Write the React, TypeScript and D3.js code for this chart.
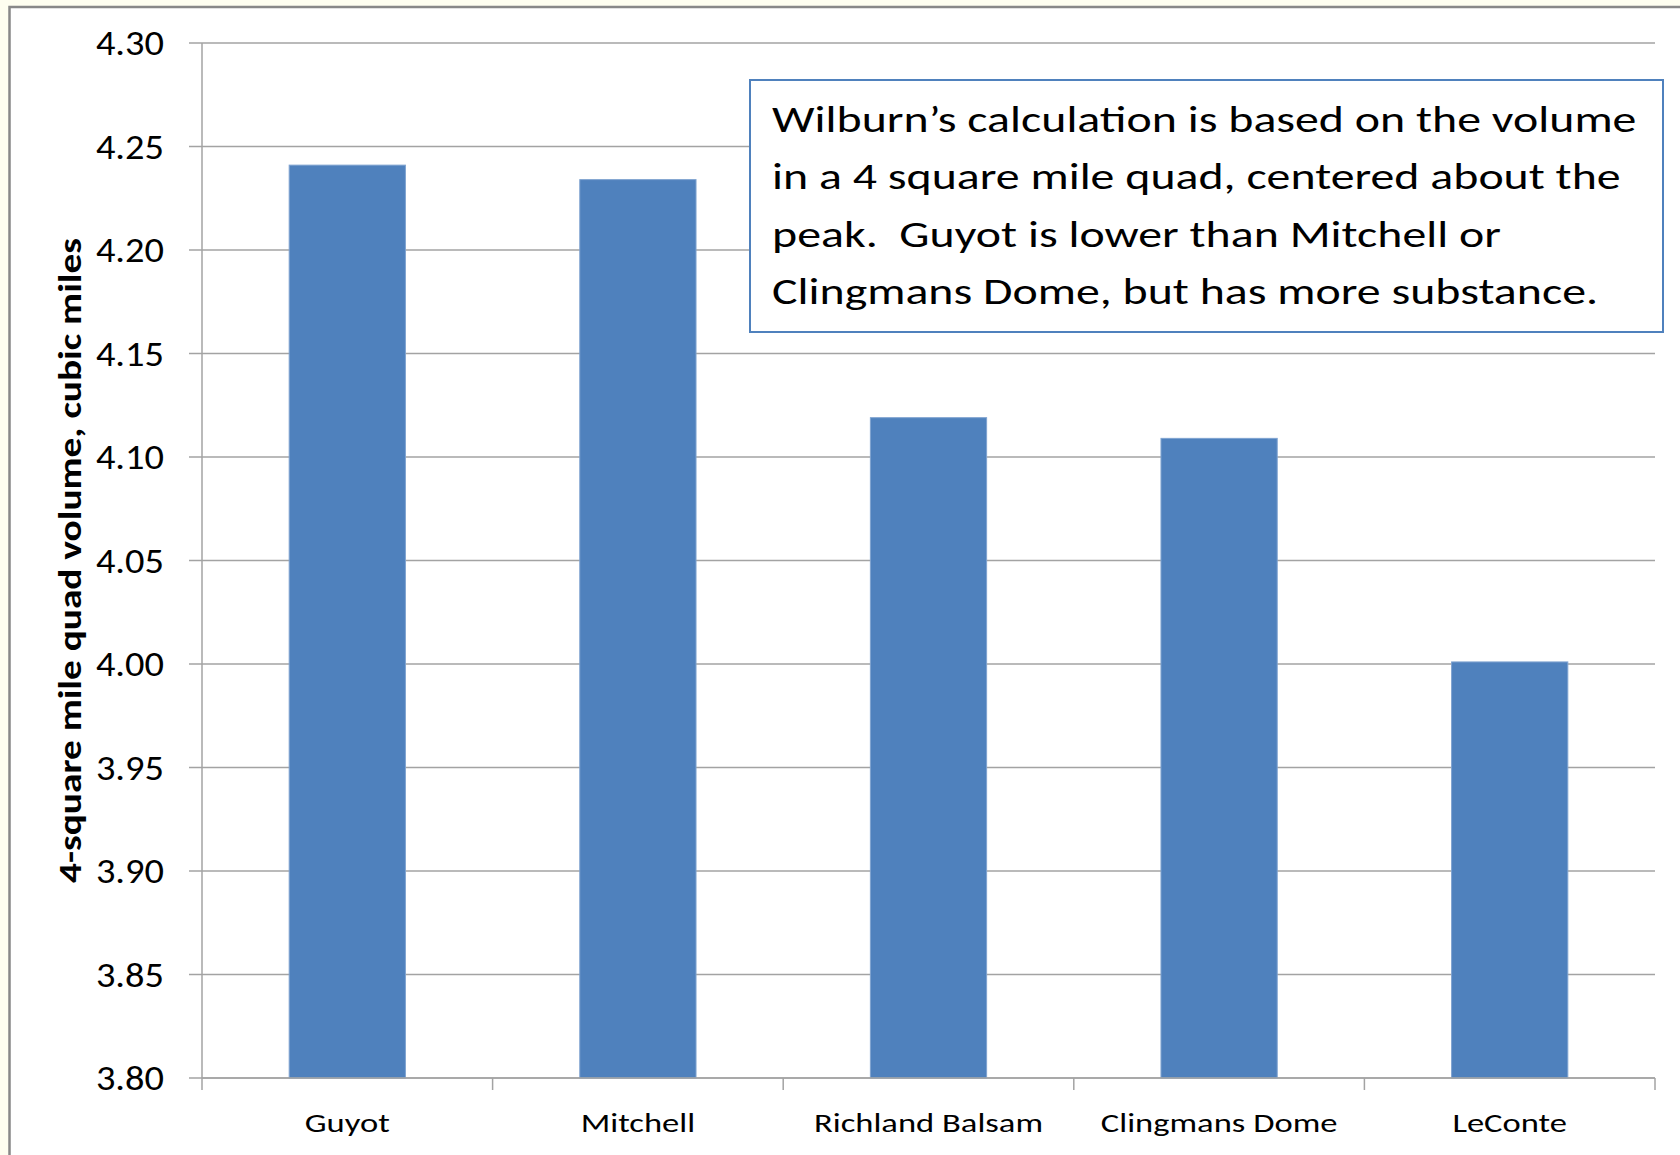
import React, { useEffect, useRef } from 'react';
import * as d3 from 'd3';

const peaks = ['Guyot', 'Mitchell', 'Richland Balsam', 'Clingmans Dome', 'LeConte'];
const volumes = [4.241, 4.234, 4.119, 4.109, 4.001];
const yTicks = [3.8, 3.85, 3.9, 3.95, 4.0, 4.05, 4.1, 4.15, 4.2, 4.25, 4.3];
const noteLines = [
  'Wilburn\u2019s calculation is based on the volume',
  'in a 4 square mile quad, centered about the',
  'peak.  Guyot is lower than Mitchell or',
  'Clingmans Dome, but has more substance.',
];
const yTitle = '4-square mile quad volume, cubic miles';

const FONT = 'Carlito, Calibri, Lato, sans-serif';
// the original's text is drawn wider than Lato; stretch horizontally
const STRETCH = 1.33;

export default function App() {
  const svgRef = useRef<SVGSVGElement>(null);

  useEffect(() => {
    if (!svgRef.current) return;
    document.body.style.margin = '0';
    const svg = d3.select(svgRef.current);
    svg.selectAll('*').remove();

    const width = 1680;
    const height = 1155;
    const plot = { left: 202, right: 1655, top: 43, bottom: 1078 };

    // page + frame
    svg.append('rect').attr('width', width).attr('height', height).attr('fill', '#fefef0');
    svg.append('rect')
      .attr('x', 9.5).attr('y', 7)
      .attr('width', width).attr('height', height)
      .attr('fill', '#fff')
      .attr('stroke', '#888').attr('stroke-width', 2.5);

    const x = d3.scaleBand<string>()
      .domain(peaks)
      .range([plot.left, plot.right])
      .paddingInner(0.6)
      .paddingOuter(0.3);
    const y = d3.scaleLinear().domain([3.8, 4.3]).range([plot.bottom, plot.top]);

    // gridlines
    svg.append('g')
      .selectAll('line')
      .data(yTicks)
      .join('line')
      .attr('x1', plot.left - 13).attr('x2', plot.right)
      .attr('y1', d => y(d)).attr('y2', d => y(d))
      .attr('stroke', '#a3a3a3').attr('stroke-width', 1.5);

    // y tick labels
    svg.append('g')
      .selectAll('text')
      .data(yTicks)
      .join('text')
      .attr('transform', d => `translate(164,${y(d)}) scale(1.13,1)`)
      .attr('dy', '0.36em')
      .attr('text-anchor', 'end')
      .attr('font-family', FONT)
      .attr('font-size', 34)
      .attr('fill', '#000')
      .text(d => d3.format('.2f')(d));

    // bars
    svg.append('g')
      .selectAll('rect')
      .data(peaks)
      .join('rect')
      .attr('x', d => x(d)!)
      .attr('width', x.bandwidth())
      .attr('y', (d, i) => y(volumes[i]))
      .attr('height', (d, i) => y(3.8) - y(volumes[i]))
      .attr('fill', '#4f81bd')
      .attr('stroke', '#7fa3d0')
      .attr('stroke-width', 1);

    // axes
    svg.append('line')
      .attr('x1', plot.left).attr('x2', plot.left)
      .attr('y1', plot.top).attr('y2', plot.bottom + 12)
      .attr('stroke', '#a3a3a3').attr('stroke-width', 1.5);
    svg.append('line')
      .attr('x1', plot.left).attr('x2', plot.right)
      .attr('y1', plot.bottom).attr('y2', plot.bottom)
      .attr('stroke', '#a3a3a3').attr('stroke-width', 1.5);
    const boundaries = peaks.map(p => x(p)! + x.bandwidth() + x.step() * 0.3);
    svg.append('g')
      .selectAll('line')
      .data(boundaries)
      .join('line')
      .attr('x1', d => d).attr('x2', d => d)
      .attr('y1', plot.bottom).attr('y2', plot.bottom + 12)
      .attr('stroke', '#a3a3a3').attr('stroke-width', 1.5);

    // x labels
    svg.append('g')
      .selectAll('text')
      .data(peaks)
      .join('text')
      .attr('transform', d => `translate(${x(d)! + x.bandwidth() / 2},1132) scale(${STRETCH},1)`)
      .attr('text-anchor', 'middle')
      .attr('font-family', FONT)
      .attr('font-size', 26)
      .attr('fill', '#000')
      .text(d => d);

    // y title
    svg.append('text')
      .attr('transform', `translate(81,${(plot.top + plot.bottom) / 2}) rotate(-90) scale(1.23,1)`)
      .attr('text-anchor', 'middle')
      .attr('font-family', FONT)
      .attr('font-weight', 'bold')
      .attr('font-size', 32)
      .attr('fill', '#000')
      .text(yTitle);

    // annotation box
    svg.append('rect')
      .attr('x', 750).attr('y', 80)
      .attr('width', 913).attr('height', 252)
      .attr('fill', '#fff')
      .attr('stroke', '#4f81bd').attr('stroke-width', 2);
    const note = svg.append('text')
      .attr('transform', `translate(772,0) scale(${STRETCH},1)`)
      .attr('font-family', FONT)
      .attr('font-size', 36)
      .attr('fill', '#000');
    note.selectAll('tspan')
      .data(noteLines)
      .join('tspan')
      .attr('x', 0)
      .attr('y', (d, i) => 132 + i * 57.5)
      .style('white-space', 'pre')
      .text(d => d);
  }, []);

  return (
    <svg
      ref={svgRef}
      width={1680}
      height={1155}
      style={{ position: 'absolute', left: 0, top: 0, display: 'block' }}
    />
  );
}
